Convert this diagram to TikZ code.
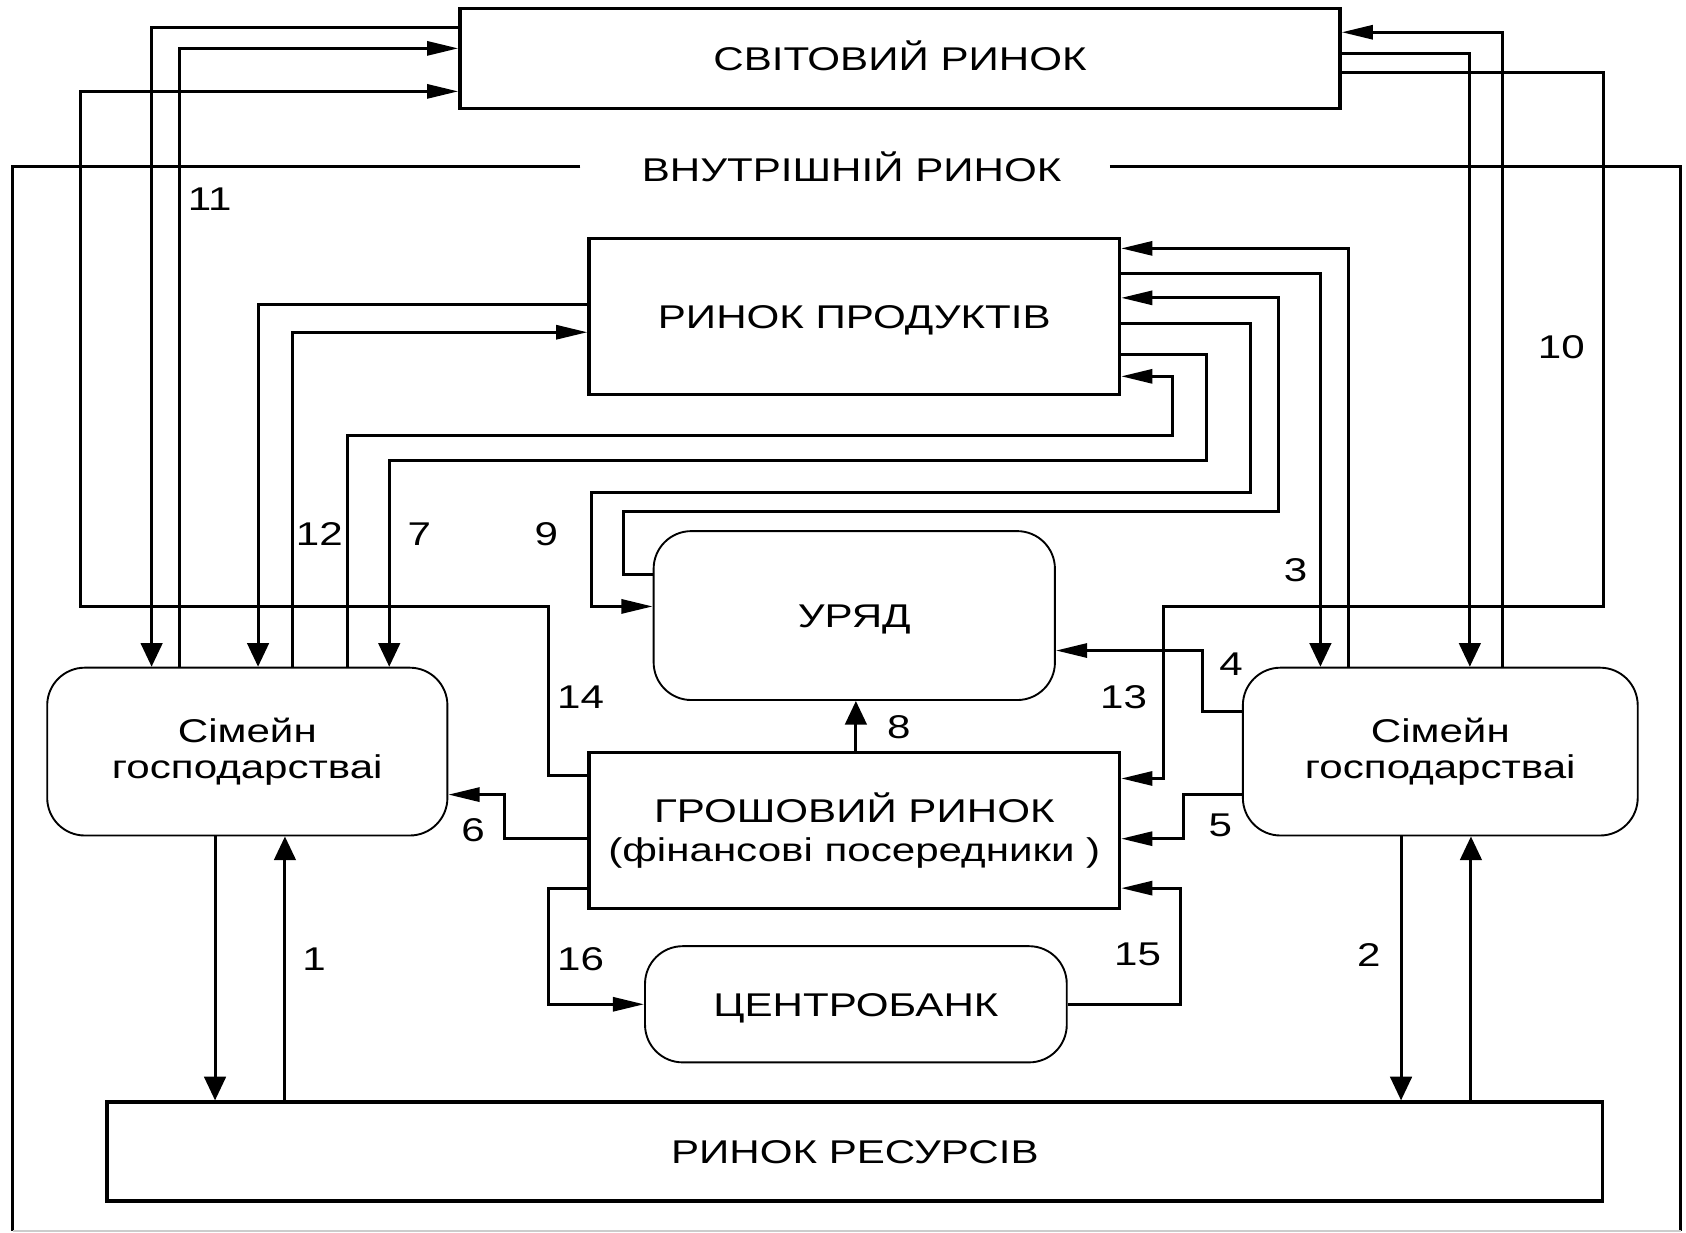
\documentclass[tikz,border=0pt]{standalone}
\usepackage{fontspec}
\setmainfont{Liberation Sans}[FakeStretch=1.28]
\usetikzlibrary{arrows.meta}

\begin{document}
\begin{tikzpicture}[
    x=0.01cm, y=-0.01cm,
    line width=0.8pt,
    every node/.style={font=\fontsize{8.7}{9.7}\selectfont},
    box/.style={draw, line width=0.9pt, inner sep=0pt, align=center},
    rbox/.style={draw, line width=0.5pt, rounded corners=0.35cm, inner sep=0pt, align=center},
    caps/.style={text height=6.2pt, text depth=0pt},
    toh/.style={-{Triangle[length=2.9mm, width=1.3mm]}},
    tov/.style={-{Triangle[length=2.2mm, width=2mm]}},
    num/.style={inner sep=0pt}
]
\useasboundingbox (0,0) rectangle (1568,1146);

% --- Markets and agents ---
\node[box, caps, minimum width=8.18cm, minimum height=0.93cm] (world) at (837,54.5) {СВІТОВИЙ РИНОК};
\node[caps] (inner) at (792,158) {ВНУТРІШНІЙ РИНОК};
\node[box, caps, minimum width=4.93cm, minimum height=1.45cm] (prod) at (794.5,294.5) {РИНОК ПРОДУКТІВ};
\node[rbox, caps, minimum width=3.73cm, minimum height=1.57cm] (gov) at (794.5,572.5) {УРЯД};
\node[box, minimum width=4.93cm, minimum height=1.45cm] (money) at (794.5,772.5) {ГРОШОВИЙ РИНОК\\[0.6pt](фінансові посередники )};
\node[rbox, caps, minimum width=3.92cm, minimum height=1.08cm] (cbank) at (796,934) {ЦЕНТРОБАНК};
\node[box, caps, minimum width=13.9cm, minimum height=0.92cm] (res) at (795,1071) {РИНОК РЕСУРСІВ};
\node[rbox, minimum width=3.72cm, minimum height=1.56cm] (hhL) at (230,699) {Сімейн\\господарстваі};
\node[rbox, minimum width=3.67cm, minimum height=1.56cm] (hhR) at (1339.5,699) {Сімейн\\господарстваі};

% --- Frame of the internal market ---
\draw ([xshift=-4.4mm]inner.west |- 0,155) -- (12,155) -- (12,1145);
\draw ([xshift=3.2mm]inner.east |- 0,155) -- (1563,155) -- (1563,1145);
\draw[gray!40, line width=0.5pt] (12,1145) -- (1563,1145);

% --- World market ---
\draw[tov] (world.west |- 0,26) -| (141,0 |- hhL.north);
\draw[toh] (167,0 |- hhL.north) |- (world.west |- 0,45);
\draw[toh] (money.west |- 0,721) -- (510,721) -- (510,564) -- (75,564) |- (world.west |- 0,85);
\draw[toh] (1397,0 |- hhR.north) |- (world.east |- 0,30);
\draw[tov] (world.east |- 0,50) -| (1367,0 |- hhR.north);
\draw[toh] (world.east |- 0,67) -- (1491,67) -- (1491,564) -- (1082,564) |- (money.east |- 0,724);

% --- Product market ---
\draw[tov] (prod.west |- 0,283) -| (240,0 |- hhL.north);
\draw[toh] (272,0 |- hhL.north) |- (prod.west |- 0,309);
\draw[toh] (1254,0 |- hhR.north) |- (prod.east |- 0,231);
\draw[tov] (prod.east |- 0,254) -| (1228,0 |- hhR.north);
\draw[toh] (gov.west |- 0,534) -- (580,534) -- (580,476) -- (1189,476) |- (prod.east |- 0,277);
\draw[toh] (prod.east |- 0,301) -- (1163,301) -- (1163,458) -- (550,458) |- (gov.west |- 0,564);
\draw[tov] (prod.east |- 0,330) -- (1122,330) -- (1122,428) -| (362,0 |- hhL.north);
\draw[toh] (323,0 |- hhL.north) -- (323,405) -- (1090,405) |- (prod.east |- 0,350);

% --- Money market and government ---
\draw[toh] (hhR.west |- 0,662) -- (1118,662) |- (gov.east |- 0,605);
\draw[toh] (hhR.west |- 0,739) -- (1101,739) |- (money.east |- 0,780);
\draw[toh] (money.west |- 0,780) -- (469,780) |- (hhL.east |- 0,739);
\draw[tov] (money.north -| 796,0) -- (gov.south -| 796,0);
\draw[toh] (money.west |- 0,826) -- (510,826) |- (cbank.west);
\draw[toh] (cbank.east) -- (1098,0 |- cbank.east) |- (money.east |- 0,826);

% --- Resource market ---
\draw[tov] (200,0 |- hhL.south) -- (200,0 |- res.north);
\draw[tov] (265,0 |- res.north) -- (265,0 |- hhL.south);
\draw[tov] (1303,0 |- hhR.south) -- (1303,0 |- res.north);
\draw[tov] (1368,0 |- res.north) -- (1368,0 |- hhR.south);

% --- Flow numbers ---
\node[num] (n1) at (292,892) {1};
\node[num] (n2) at (1273,888) {2};
\node[num] (n3) at (1205,530) {3};
\node[num] (n4) at (1145,618) {4};
\node[num] (n5) at (1135,768) {5};
\node[num] (n6) at (440,772) {6};
\node[num] (n7) at (390,497) {7};
\node[num] (n8) at (836,676) {8};
\node[num] (n9) at (508,497) {9};
\node[num] (n10) at (1452,323) {10};
\node[num] (n11) at (195,185) {11};
\node[num] (n12) at (297,497) {12};
\node[num] (n13) at (1045,648) {13};
\node[num] (n14) at (540,648) {14};
\node[num] (n15) at (1058,888) {15};
\node[num] (n16) at (540,892) {16};

\end{tikzpicture}
\end{document}
